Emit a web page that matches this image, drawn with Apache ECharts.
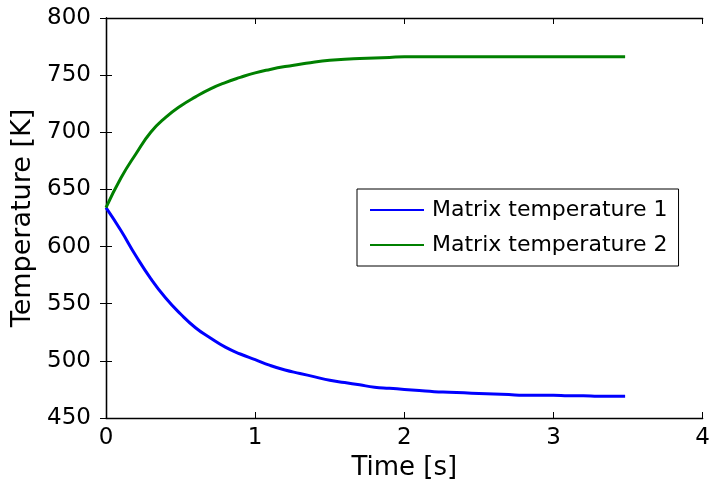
<!DOCTYPE html>
<html>
<head>
<meta charset="utf-8">
<script src="https://cdn.jsdelivr.net/npm/echarts@6/dist/echarts.min.js"></script>
<style>html,body{margin:0;padding:0;background:#fff}#c{width:713px;height:489px}</style>
</head>
<body>
<div id="c"></div>
<script>
var times = [0,0.1,0.2,0.3,0.4,0.5,0.6,0.7,0.8,0.9,1.0,1.1,1.2,1.3,1.4,1.5,1.6,1.7,1.8,1.9,2.0,2.1,2.2,2.3,2.4,2.5,2.6,2.7,2.8,2.9,3.0,3.1,3.2,3.3,3.4,3.48];
var temp1 = [634,614,592,572,555,541,529,520,512,506,501,496,492,489,486,483,481,479,477,476,475,474,473,472.5,472,471.5,471,470.5,470,470,470,469.5,469.5,469,469,469];
var temp2 = [634,660,681,700,713,723,731,738,743.5,748,752,755,757.5,759.5,761.5,763,764,764.5,765,765.5,766,766,766,766,766,766,766,766,766,766,766,766,766,766,766,766];
var seriesNames = ['Matrix temperature 1','Matrix temperature 2'];
var xTicks = [0,1,2,3,4];
var yTicks = [450,500,550,600,650,700,750,800];

function pairs(v){ return times.map(function(t,i){ return [t, v[i]]; }); }
var font = 'DejaVu Sans';
var axisLine = {show:true, lineStyle:{color:'#000', width:1.3}};
var chart = echarts.init(document.getElementById('c'), null, {renderer:'canvas'});
chart.setOption({
  animation:false,
  backgroundColor:'#fff',
  grid:{left:106, top:18, right:5, bottom:71, containLabel:false},
  legend:{
    left:357, top:189, orient:'vertical',
    data:[{name:seriesNames[0], icon:'rect', itemStyle:{color:'#0000ff'}},
          {name:seriesNames[1], icon:'rect', itemStyle:{color:'#008000'}}],
    itemWidth:54, itemHeight:2.2, itemGap:13,
    padding:[10,11,10,13],
    borderColor:'#000', borderWidth:1, backgroundColor:'#fff',
    textStyle:{fontFamily:font, fontSize:22, color:'#000', padding:[0,0,0,3], lineHeight:22}
  },
  xAxis:[{
    type:'value', min:xTicks[0], max:xTicks[xTicks.length-1], interval:1,
    name:'Time [s]', nameLocation:'middle', nameGap:34,
    nameTextStyle:{fontFamily:font, fontSize:26, color:'#000'},
    axisLine:axisLine, axisTick:{show:true, inside:true, length:6, lineStyle:{color:'#000'}},
    axisLabel:{fontFamily:font, fontSize:23, color:'#000', margin:9},
    splitLine:{show:false}
  },{
    type:'value', position:'top', min:xTicks[0], max:xTicks[xTicks.length-1], interval:1,
    axisLine:axisLine, axisTick:{show:true, inside:true, length:6, lineStyle:{color:'#000'}},
    axisLabel:{show:false}, splitLine:{show:false}
  }],
  yAxis:[{
    type:'value', min:yTicks[0], max:yTicks[yTicks.length-1], interval:50,
    name:'Temperature [K]', nameLocation:'middle', nameGap:60,
    nameTextStyle:{fontFamily:font, fontSize:27, color:'#000'},
    axisLine:axisLine, axisTick:{show:true, inside:true, length:6, lineStyle:{color:'#000'}},
    axisLabel:{fontFamily:font, fontSize:23, color:'#000', margin:15},
    splitLine:{show:false}
  },{
    type:'value', position:'right', min:yTicks[0], max:yTicks[yTicks.length-1], interval:50,
    axisLine:axisLine, axisTick:{show:true, inside:true, length:6, lineStyle:{color:'#000'}},
    axisLabel:{show:false}, splitLine:{show:false}
  }],
  series:[{
    name:seriesNames[0], type:'line', data:pairs(temp1), symbol:'none', smooth:true,
    lineStyle:{color:'#0000ff', width:3}, itemStyle:{color:'#0000ff'}
  },{
    name:seriesNames[1], type:'line', data:pairs(temp2), symbol:'none', smooth:true,
    lineStyle:{color:'#008000', width:3}, itemStyle:{color:'#008000'}
  }]
});
</script>
</body>
</html>
